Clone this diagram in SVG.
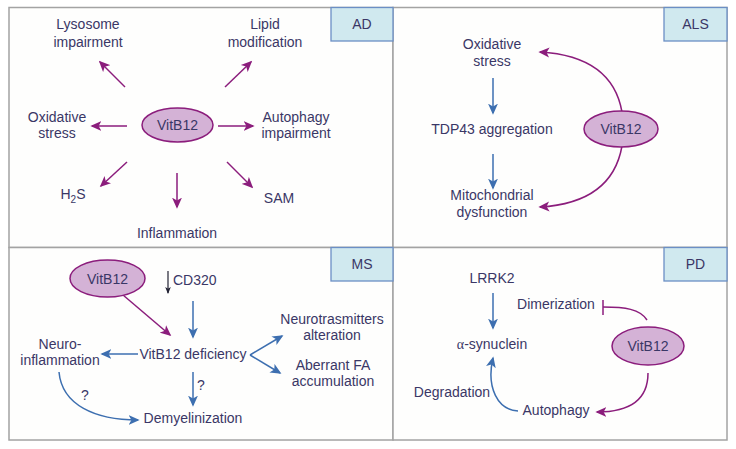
<svg xmlns="http://www.w3.org/2000/svg" width="736" height="449" viewBox="0 0 736 449">
<defs>
<marker id="ap" viewBox="0 0 10 10" refX="8.5" refY="5" markerWidth="11" markerHeight="11" markerUnits="userSpaceOnUse" orient="auto">
<path d="M0,0.5 L10,5 L0,9.5 L2.5,5 z" fill="#8b1d7c"/>
</marker>
<marker id="ab" viewBox="0 0 10 10" refX="8.5" refY="5" markerWidth="11" markerHeight="11" markerUnits="userSpaceOnUse" orient="auto">
<path d="M0,0.5 L10,5 L0,9.5 L2.5,5 z" fill="#3d6fb0"/>
</marker>
<marker id="ak" viewBox="0 0 10 10" refX="8.5" refY="5" markerWidth="7" markerHeight="7" markerUnits="userSpaceOnUse" orient="auto">
<path d="M0,1 L10,5 L0,9 L2.5,5 z" fill="#222233"/>
</marker>
</defs>
<style>
text{font-family:"Liberation Sans",Arial,sans-serif;font-size:14px;fill:#3a3766;text-anchor:middle}
.panel{fill:#fefefd;stroke:#a3a3a3;stroke-width:1.5}
.tag{fill:#d0e9ef;stroke:#6b8fc5;stroke-width:1.3}
.vit{fill:#d4b2d6;stroke:#8b1d7c;stroke-width:1.5}
.pa{fill:none;stroke:#8b1d7c;stroke-width:1.5;marker-end:url(#ap)}
.ba{fill:none;stroke:#3d6fb0;stroke-width:1.5;marker-end:url(#ab)}
</style>
<rect width="736" height="449" fill="#ffffff"/>
<g id="panels">
<rect class="panel" x="9" y="7.5" width="384" height="240"/>
<rect class="panel" x="393" y="7.5" width="334" height="240"/>
<rect class="panel" x="9" y="247.5" width="384" height="192.5"/>
<rect class="panel" x="393" y="247.5" width="334" height="192.5"/>
</g>
<g id="tag-AD"><rect class="tag" x="331" y="7.5" width="62" height="33.5"/><text x="362" y="29">AD</text></g>
<g id="tag-ALS"><rect class="tag" x="664" y="7.5" width="63" height="33.5"/><text x="695.5" y="29">ALS</text></g>
<g id="tag-MS"><rect class="tag" x="331" y="247.5" width="62" height="33.5"/><text x="362" y="269">MS</text></g>
<g id="tag-PD"><rect class="tag" x="664" y="247.5" width="63" height="33.5"/><text x="695.5" y="269">PD</text></g>

<g id="connectors">
<!-- AD -->
<line class="pa" x1="125" y1="87" x2="100" y2="62"/>
<line class="pa" x1="225" y1="87" x2="251" y2="62"/>
<line class="pa" x1="127" y1="126" x2="92" y2="126"/>
<line class="pa" x1="218" y1="126" x2="253" y2="126"/>
<line class="pa" x1="127" y1="162" x2="101" y2="186"/>
<line class="pa" x1="177" y1="173" x2="177" y2="207"/>
<line class="pa" x1="227" y1="162" x2="252" y2="187"/>
<!-- ALS -->
<line class="ba" x1="493" y1="78" x2="493" y2="113"/>
<line class="ba" x1="493" y1="154" x2="493" y2="188"/>
<path class="pa" d="M622,112 C616,78 592,55 540,52"/>
<path class="pa" d="M622,146 C616,180 592,204 540,207"/>
<!-- MS -->
<line x1="168" y1="271" x2="168" y2="293" stroke="#222233" stroke-width="1.2" marker-end="url(#ak)"/>
<line class="pa" x1="123" y1="295" x2="170" y2="335"/>
<line class="ba" x1="193" y1="301" x2="193" y2="337"/>
<line class="ba" x1="138" y1="354" x2="102" y2="354"/>
<line class="ba" x1="193" y1="372" x2="193" y2="405"/>
<path class="ba" d="M59,372 C62,405 95,420 138,420"/>
<line class="ba" x1="250" y1="355" x2="282" y2="336"/>
<line class="ba" x1="250" y1="355" x2="280" y2="373"/>
<!-- PD -->
<line class="ba" x1="493" y1="293" x2="493" y2="328"/>
<path d="M647,320 C640,309 625,307 603,307" fill="none" stroke="#8b1d7c" stroke-width="1.5"/>
<line x1="603" y1="300" x2="603" y2="315" stroke="#8b1d7c" stroke-width="1.5"/>
<path class="pa" d="M648,373 C648,398 632,412 597,412"/>
<path class="ba" d="M518,411 C498,410 486,388 493,358"/>
</g>

<g id="AD-VitB12"><ellipse class="vit" cx="177.5" cy="125" rx="35.5" ry="17"/><text x="177.5" y="130">VitB12</text></g>
<g id="AD-lysosome"><text x="88" y="29">Lysosome</text><text x="88" y="47">impairment</text></g>
<g id="AD-lipid"><text x="265" y="29">Lipid</text><text x="265" y="47">modification</text></g>
<g id="AD-oxidative"><text x="57" y="122">Oxidative</text><text x="57" y="138">stress</text></g>
<g id="AD-autophagy"><text x="296" y="122">Autophagy</text><text x="296" y="138">impairment</text></g>
<g id="AD-H2S"><text x="73" y="199">H<tspan font-size="10" dy="4">2</tspan><tspan dy="-4">S</tspan></text></g>
<g id="AD-SAM"><text x="279" y="203">SAM</text></g>
<g id="AD-inflammation"><text x="177" y="238">Inflammation</text></g>

<g id="ALS-VitB12"><ellipse class="vit" cx="621" cy="129" rx="37" ry="18"/><text x="621" y="134">VitB12</text></g>
<g id="ALS-oxidative"><text x="492" y="49">Oxidative</text><text x="492" y="66">stress</text></g>
<g id="ALS-tdp43"><text x="492" y="134">TDP43 aggregation</text></g>
<g id="ALS-mito"><text x="492" y="200">Mitochondrial</text><text x="492" y="217">dysfunction</text></g>

<g id="MS-VitB12"><ellipse class="vit" cx="107.5" cy="278.5" rx="37.5" ry="18.5"/><text x="107.5" y="283.5">VitB12</text></g>
<g id="MS-CD320"><text x="173" y="285" style="text-anchor:start">CD320</text></g>
<g id="MS-deficiency"><text x="193" y="359">VitB12 deficiency</text></g>
<g id="MS-neuroinflammation"><text x="60" y="349">Neuro-</text><text x="60" y="365">inflammation</text></g>
<g id="MS-demyelinization"><text x="193" y="423">Demyelinization</text></g>
<g id="MS-q1"><text x="201" y="390">?</text></g>
<g id="MS-q2"><text x="85" y="400">?</text></g>
<g id="MS-neurotrans"><text x="332" y="324">Neurotrasmitters</text><text x="332" y="340">alteration</text></g>
<g id="MS-aberrant"><text x="333" y="370">Aberrant FA</text><text x="333" y="386">accumulation</text></g>

<g id="PD-VitB12"><ellipse class="vit" cx="648" cy="346" rx="36" ry="19"/><text x="648" y="351">VitB12</text></g>
<g id="PD-LRRK2"><text x="492" y="283">LRRK2</text></g>
<g id="PD-synuclein"><text x="492" y="349"><tspan font-family="Liberation Serif">α</tspan>-synuclein</text></g>
<g id="PD-dimerization"><text x="556" y="309">Dimerization</text></g>
<g id="PD-autophagy"><text x="556" y="415">Autophagy</text></g>
<g id="PD-degradation"><text x="452" y="397">Degradation</text></g>
</svg>
